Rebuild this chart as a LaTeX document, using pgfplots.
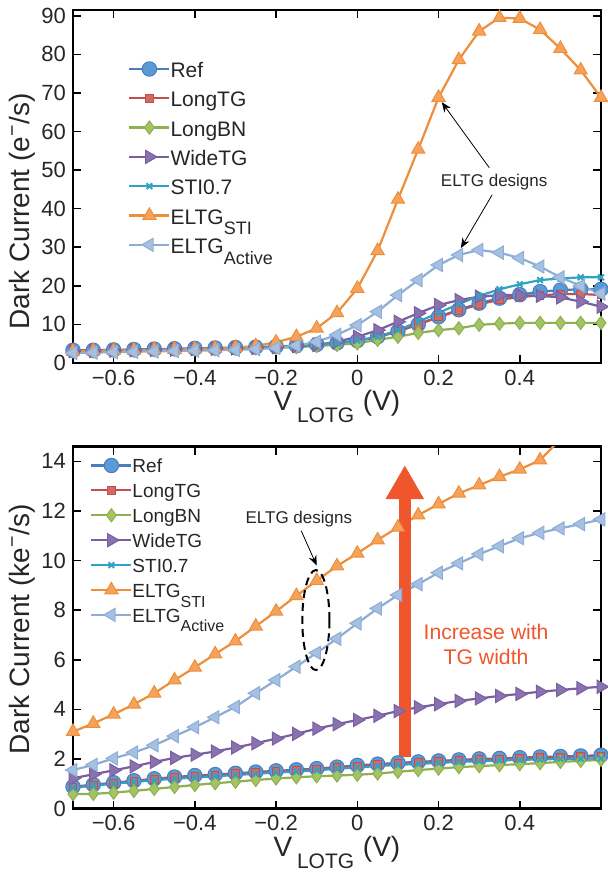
\documentclass[border=0pt]{standalone}
\usepackage{fontspec}
\setmainfont{Liberation Sans}
\usepackage{pgfplots}
\pgfplotsset{compat=1.18}
\usetikzlibrary{arrows.meta}

% MATLAB/Excel style palette
\definecolor{cref}{HTML}{4A7EBB}
\definecolor{crefF}{HTML}{5B9BD5}
\definecolor{clongtg}{HTML}{C0504D}
\definecolor{clongtgF}{HTML}{D46A67}
\definecolor{clongbn}{HTML}{8FB050}
\definecolor{clongbnF}{HTML}{A3C464}
\definecolor{cwide}{HTML}{7A5FA0}
\definecolor{cwideF}{HTML}{8A72B0}
\definecolor{csti}{HTML}{2FA3C4}
\definecolor{celtg}{HTML}{EE8E3A}
\definecolor{celtgF}{HTML}{F5A35C}
\definecolor{cact}{HTML}{8EADD6}
\definecolor{cactF}{HTML}{A6C0E2}
\definecolor{cred}{HTML}{F0562B}

% deep subscript: a tall invisible rule pushes the math subscript further down
\newcommand{\bigsub}[3]{\textsubscript{\rule{0pt}{#1}\fontsize{#2}{#2}\selectfont #3}}

\pgfplotsset{
  dcaxis/.style={
    scale only axis, width=264pt,
    xmin=-0.7, xmax=0.6,
    xtick={-0.6,-0.4,-0.2,0,0.2,0.4},
    xticklabels={−0.6,−0.4,−0.2,0,0.2,0.4},
    tick align=inside,
    major tick length=4pt,
    tick style={black, line width=0.8pt},
    axis line style={black, line width=1.1pt},
    /pgf/number format/assume math mode=true,
    ticklabel style={font=\fontsize{11}{13}\selectfont, text=black!85},
    label style={font=\fontsize{14}{16}\selectfont, text=black!85},
    xlabel={V\,\bigsub{11pt}{10.5}{LOTG} (V)},
    xlabel style={yshift=4.5pt},
    legend cell align=left,
    legend image code/.code={
      \draw[mark repeat=2,mark phase=2] plot coordinates {(0pt,0pt) (10pt,0pt) (20pt,0pt)};},
    every axis plot/.append style={line width=1.1pt},
  },
  sRef/.style={cref, mark=*, mark size=3.6pt, mark options={fill=crefF, draw=cref, line width=0.5pt}},
  sLongTG/.style={clongtg, mark=square*, mark size=1.9pt, mark options={fill=clongtgF, draw=clongtg, line width=0.5pt}},
  sLongBN/.style={clongbn, mark=diamond*, mark size=3.3pt, mark options={fill=clongbnF, draw=clongbn, line width=0.5pt}},
  sWide/.style={cwide, mark=triangle*, mark size=3.8pt, mark options={rotate=-90, fill=cwideF, draw=cwide, line width=0.5pt}},
  sSti/.style={csti, mark=x, mark size=2pt, mark options={line width=1pt}},
  sEltg/.style={celtg, mark=triangle*, mark size=3.8pt, mark options={fill=celtgF, draw=celtg, line width=0.5pt}},
  sAct/.style={cact, mark=triangle*, mark size=3.8pt, mark options={rotate=90, fill=cactF, draw=cact, line width=0.5pt}},
}

\begin{document}
\begin{tikzpicture}
\path[use as bounding box] (-36.5pt,-254.5pt) rectangle (267pt,181.5pt);

% ---------------- top panel: e-/s ----------------
\begin{axis}[dcaxis,
  at={(0,0)}, height=176.5pt,
  ymin=0, ymax=91.5, ytick={0,10,...,90},
  ylabel={Dark Current (e\textsuperscript{−}/s)},
  ylabel style={at={(axis description cs:-0.097,0.43)}, anchor=center},
  legend style={at={(axis description cs:0.104,0.867)}, anchor=north west,
    draw=none, fill=none, inner sep=0pt, row sep=3pt,
    font=\fontsize{10.5}{14.5}\selectfont,
    nodes={inner sep=0pt, text=black!85},
    /tikz/every even column/.append style={column sep=5pt}},
]
\addplot[sRef] coordinates {(-0.7,3.3) (-0.65,3.3) (-0.6,3.4) (-0.55,3.5) (-0.5,3.6) (-0.45,3.7) (-0.4,3.8) (-0.35,3.9) (-0.3,4.0) (-0.25,4.1) (-0.2,4.3) (-0.15,4.5) (-0.1,4.8) (-0.05,5.2) (0,5.8) (0.05,6.8) (0.1,8.2) (0.15,10.0) (0.2,12.0) (0.25,13.8) (0.3,15.5) (0.35,16.8) (0.4,17.7) (0.45,18.5) (0.5,18.9) (0.55,19.1) (0.6,19.1)};
\addlegendentry{\strut Ref}
\addplot[sLongTG] coordinates {(-0.7,3.2) (-0.65,3.2) (-0.6,3.3) (-0.55,3.4) (-0.5,3.5) (-0.45,3.6) (-0.4,3.7) (-0.35,3.8) (-0.3,3.9) (-0.25,4.0) (-0.2,4.2) (-0.15,4.4) (-0.1,4.7) (-0.05,5.1) (0,5.7) (0.05,6.7) (0.1,8.2) (0.15,10.0) (0.2,11.9) (0.25,13.6) (0.3,15.2) (0.35,16.4) (0.4,17.1) (0.45,17.5) (0.5,17.9) (0.55,17.9) (0.6,17.6)};
\addlegendentry{\strut LongTG}
\addplot[sLongBN] coordinates {(-0.7,3.0) (-0.65,3.0) (-0.6,3.1) (-0.55,3.2) (-0.5,3.3) (-0.45,3.4) (-0.4,3.5) (-0.35,3.6) (-0.3,3.7) (-0.25,3.8) (-0.2,3.9) (-0.15,4.1) (-0.1,4.4) (-0.05,4.7) (0,5.1) (0.05,6.0) (0.1,6.8) (0.15,7.8) (0.2,8.5) (0.25,9.0) (0.3,9.9) (0.35,10.2) (0.4,10.4) (0.45,10.4) (0.5,10.4) (0.55,10.4) (0.6,10.4)};
\addlegendentry{\strut LongBN}
\addplot[sWide] coordinates {(-0.7,3.1) (-0.65,3.1) (-0.6,3.2) (-0.55,3.3) (-0.5,3.4) (-0.45,3.5) (-0.4,3.6) (-0.35,3.7) (-0.3,3.8) (-0.25,3.9) (-0.2,4.1) (-0.15,4.4) (-0.1,4.7) (-0.05,5.5) (0,6.8) (0.05,8.5) (0.1,10.7) (0.15,12.9) (0.2,15.0) (0.25,16.3) (0.3,17.2) (0.35,17.6) (0.4,17.6) (0.45,17.4) (0.5,17.0) (0.55,15.9) (0.6,14.6)};
\addlegendentry{\strut WideTG}
\addplot[sSti] coordinates {(-0.7,3.1) (-0.65,3.1) (-0.6,3.2) (-0.55,3.3) (-0.5,3.4) (-0.45,3.5) (-0.4,3.6) (-0.35,3.7) (-0.3,3.8) (-0.25,3.9) (-0.2,4.1) (-0.15,4.4) (-0.1,4.8) (-0.05,5.1) (0,5.8) (0.05,6.8) (0.1,8.5) (0.15,10.7) (0.2,13.0) (0.25,15.3) (0.3,17.4) (0.35,19.1) (0.4,20.4) (0.45,21.5) (0.5,21.9) (0.55,22.2) (0.6,22.2)};
\addlegendentry{\strut STI0.7}
\addplot[sEltg] coordinates {(-0.7,3.0) (-0.65,3.1) (-0.6,3.2) (-0.55,3.3) (-0.5,3.4) (-0.45,3.5) (-0.4,3.6) (-0.35,3.8) (-0.3,4.0) (-0.25,4.4) (-0.2,5.4) (-0.15,6.8) (-0.1,9.0) (-0.05,13.0) (0,19.3) (0.05,29.1) (0.1,42.4) (0.15,55.4) (0.2,68.8) (0.25,78.6) (0.3,86.0) (0.35,89.5) (0.4,89.3) (0.45,86.4) (0.5,81.5) (0.55,75.9) (0.6,68.8)};
\addlegendentry{\strut ELTG\bigsub{9.2pt}{9}{STI}\rule[-9pt]{0pt}{1pt}}
\addplot[sAct] coordinates {(-0.7,2.6) (-0.65,2.7) (-0.6,2.8) (-0.55,2.9) (-0.5,3.0) (-0.45,3.1) (-0.4,3.2) (-0.35,3.3) (-0.3,3.4) (-0.25,3.6) (-0.2,3.9) (-0.15,4.5) (-0.1,5.5) (-0.05,7.3) (0,9.8) (0.05,13.3) (0.1,17.6) (0.15,21.5) (0.2,25.4) (0.25,28.0) (0.3,29.3) (0.35,28.6) (0.4,27.2) (0.45,25.0) (0.5,22.2) (0.55,20.0) (0.6,18.0)};
\addlegendentry{\strut ELTG\bigsub{9.2pt}{9}{Active}}

\node[font=\fontsize{8.5}{10}\selectfont, text=black!85] at (axis cs:0.337,47) {ELTG designs};
\draw[line width=0.4pt, -{Stealth[length=5pt,width=4pt]}] (axis cs:0.325,50.6) -- (axis cs:0.208,67.6);
\draw[line width=0.4pt, -{Stealth[length=5pt,width=4pt]}] (axis cs:0.332,43.6) -- (axis cs:0.255,29.8);
\end{axis}

% ---------------- bottom panel: ke-/s ----------------
\begin{axis}[dcaxis,
  at={(0,-222.75pt)}, height=181pt,
  ymin=0, ymax=14.6, ytick={0,2,...,14},
  ylabel={Dark Current (ke\textsuperscript{−}/s)},
  ylabel style={at={(axis description cs:-0.097,0.495)}, anchor=center},
  legend style={at={(axis description cs:0.032,0.977)}, anchor=north west,
    draw=none, fill=none, inner sep=0pt, row sep=2.2pt,
    font=\fontsize{9.5}{12.5}\selectfont,
    nodes={inner sep=0pt, text=black!85},
    /tikz/every even column/.append style={column sep=3pt}},
]
\addplot[sRef] coordinates {(-0.7,0.88) (-0.65,0.96) (-0.6,1.04) (-0.55,1.12) (-0.5,1.20) (-0.45,1.27) (-0.4,1.33) (-0.35,1.37) (-0.3,1.42) (-0.25,1.47) (-0.2,1.52) (-0.15,1.56) (-0.1,1.61) (-0.05,1.67) (0,1.74) (0.05,1.79) (0.1,1.84) (0.15,1.88) (0.2,1.92) (0.25,1.96) (0.3,2.00) (0.35,2.02) (0.4,2.05) (0.45,2.08) (0.5,2.10) (0.55,2.12) (0.6,2.15)};
\addlegendentry{\strut Ref}
\addplot[sLongTG] coordinates {(-0.7,0.86) (-0.65,0.94) (-0.6,1.02) (-0.55,1.10) (-0.5,1.18) (-0.45,1.25) (-0.4,1.31) (-0.35,1.35) (-0.3,1.40) (-0.25,1.45) (-0.2,1.50) (-0.15,1.54) (-0.1,1.59) (-0.05,1.65) (0,1.72) (0.05,1.77) (0.1,1.82) (0.15,1.86) (0.2,1.90) (0.25,1.94) (0.3,1.97) (0.35,2.00) (0.4,2.03) (0.45,2.06) (0.5,2.08) (0.55,2.10) (0.6,2.12)};
\addlegendentry{\strut LongTG}
\addplot[sLongBN] coordinates {(-0.7,0.58) (-0.65,0.59) (-0.6,0.64) (-0.55,0.71) (-0.5,0.79) (-0.45,0.87) (-0.4,0.95) (-0.35,1.02) (-0.3,1.08) (-0.25,1.15) (-0.2,1.21) (-0.15,1.26) (-0.1,1.30) (-0.05,1.33) (0,1.36) (0.05,1.41) (0.1,1.48) (0.15,1.55) (0.2,1.61) (0.25,1.67) (0.3,1.71) (0.35,1.75) (0.4,1.79) (0.45,1.83) (0.5,1.88) (0.55,1.92) (0.6,1.96)};
\addlegendentry{\strut LongBN}
\addplot[sWide] coordinates {(-0.7,1.22) (-0.65,1.38) (-0.6,1.54) (-0.55,1.70) (-0.5,1.88) (-0.45,2.04) (-0.4,2.17) (-0.35,2.30) (-0.3,2.46) (-0.25,2.63) (-0.2,2.82) (-0.15,3.01) (-0.1,3.22) (-0.05,3.40) (0,3.57) (0.05,3.74) (0.1,3.93) (0.15,4.08) (0.2,4.21) (0.25,4.34) (0.3,4.44) (0.35,4.54) (0.4,4.62) (0.45,4.71) (0.5,4.78) (0.55,4.85) (0.6,4.91)};
\addlegendentry{\strut WideTG}
\addplot[sSti] coordinates {(-0.7,0.84) (-0.65,0.92) (-0.6,1.00) (-0.55,1.07) (-0.5,1.14) (-0.45,1.20) (-0.4,1.25) (-0.35,1.30) (-0.3,1.35) (-0.25,1.40) (-0.2,1.45) (-0.15,1.49) (-0.1,1.54) (-0.05,1.60) (0,1.66) (0.05,1.71) (0.1,1.76) (0.15,1.80) (0.2,1.84) (0.25,1.88) (0.3,1.91) (0.35,1.94) (0.4,1.96) (0.45,1.98) (0.5,2.00) (0.55,2.01) (0.6,2.02)};
\addlegendentry{\strut STI0.7}
\addplot[sEltg, mark indices={1,2,3,4,5,6,7,8,9,10,11,12,13,14,15,16,17,18,19,20,21,22,23,24},
  legend image post style={mark indices={2}}] coordinates {(-0.7,3.10) (-0.65,3.43) (-0.6,3.80) (-0.55,4.20) (-0.5,4.65) (-0.45,5.18) (-0.4,5.69) (-0.35,6.23) (-0.3,6.75) (-0.25,7.35) (-0.2,7.95) (-0.15,8.58) (-0.1,9.19) (-0.05,9.78) (0,10.29) (0.05,10.83) (0.1,11.34) (0.15,11.83) (0.2,12.28) (0.25,12.71) (0.3,13.04) (0.35,13.38) (0.4,13.68) (0.45,14.05) (0.5,14.9) (0.55,15.5) (0.6,16.1)};
\addlegendentry{\strut ELTG\bigsub{8pt}{8}{STI}\rule[-7pt]{0pt}{1pt}}
\addplot[sAct] coordinates {(-0.7,1.55) (-0.65,1.76) (-0.6,2.02) (-0.55,2.26) (-0.5,2.55) (-0.45,2.92) (-0.4,3.28) (-0.35,3.68) (-0.3,4.10) (-0.25,4.65) (-0.2,5.18) (-0.15,5.72) (-0.1,6.28) (-0.05,6.85) (0,7.47) (0.05,8.07) (0.1,8.61) (0.15,9.05) (0.2,9.51) (0.25,9.89) (0.3,10.26) (0.35,10.58) (0.4,10.90) (0.45,11.12) (0.5,11.30) (0.55,11.47) (0.6,11.66)};
\addlegendentry{\strut ELTG\bigsub{8pt}{8}{Active}}

% annotations
\node[font=\fontsize{8.5}{10}\selectfont, text=black!85] at (axis cs:-0.144,11.67) {ELTG designs};
\draw[line width=0.4pt, -{Stealth[length=5pt,width=4pt]}] (axis cs:-0.138,11.2) -- (axis cs:-0.1,9.8);
\draw[line width=1pt, dash pattern=on 4pt off 2.5pt] (axis cs:-0.102,7.6) ellipse [x radius=6.8pt, y radius=25pt];
\draw[cred, line width=6pt, -{Triangle[width=18pt,length=17pt]}] (axis cs:0.117,2.08) -- (axis cs:0.117,13.85);
\node[cred, font=\fontsize{10.6}{12.5}\selectfont, align=center] at (axis cs:0.317,6.6) {Increase with\\TG width};
\end{axis}
\end{tikzpicture}
\end{document}
